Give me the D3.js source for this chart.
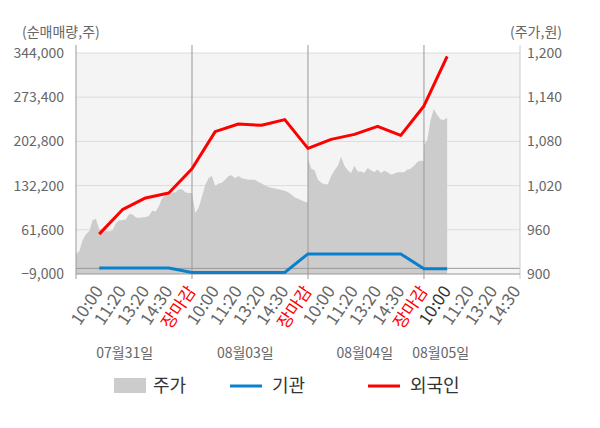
<!DOCTYPE html>
<html>
<head>
<meta charset="utf-8">
<script src="https://cdn.jsdelivr.net/npm/d3@7"></script>
<style>
  body { margin: 0; background: #fff; }
  svg text { font-family: "Noto Sans CJK KR", "Noto Sans", sans-serif; }
</style>
</head>
<body>
<div id="vis"></div>
<script>
// ---------- data ----------
const days = ["07월31일", "08월03일", "08월04일", "08월05일"];
const slotLabels = [
  "10:00", "11:20", "13:20", "14:30", "장마감",
  "10:00", "11:20", "13:20", "14:30", "장마감",
  "10:00", "11:20", "13:20", "14:30", "장마감",
  "10:00", "11:20", "13:20", "14:30"
];
const leftTicks = [-9000, 61600, 132200, 202800, 273400, 344000];
const rightTicks = [900, 960, 1020, 1080, 1140, 1200];

// net buying (shares), one value per time slot from day 1 10:00
const foreign = [54700, 93700, 112500, 120500, 159000,
  218400, 230600, 228500, 237600, 191600,
  206000, 214000, 226900, 212400, 259400,
  338700];
const institution = [500, 500, 500, 500, -6500,
  -6500, -6500, -6500, -6500, 23100,
  23100, 23100, 23100, 23100, -500,
  -500];

// intraday price (won), evenly sampled per session
const priceDay1 = [927, 931, 946, 954, 958, 973, 975, 961, 956, 958, 958, 959,
  969, 973, 973, 974, 981, 981, 977, 976, 977, 977, 979, 986,
  985, 992, 1003, 1007, 1008, 1010, 1011, 1015, 1015, 1011, 1010, 1010];
const priceDay2 = [1010, 983, 990, 1005, 1021, 1030, 1033, 1019, 1023, 1024, 1028, 1033,
  1034, 1030, 1033, 1030, 1029, 1028, 1028, 1028, 1025, 1023, 1020, 1018,
  1017, 1016, 1015, 1014, 1013, 1011, 1008, 1004, 1002, 1000, 998, 997];
const priceDay3 = [1057, 1043, 1041, 1028, 1024, 1022, 1022, 1033, 1041, 1047, 1059, 1047,
  1041, 1037, 1047, 1039, 1039, 1037, 1044, 1041, 1038, 1042, 1037, 1040,
  1038, 1035, 1036, 1038, 1038, 1038, 1042, 1043, 1047, 1052, 1054, 1053];
const priceDay4 = [1075, 1082, 1109, 1124, 1116, 1110, 1109, 1112];

// ---------- layout ----------
const W = 600, H = 428;
const plot = { left: 76, right: 520, top: 53, bottom: 274, frameTop: 45 };
const slotsPerDay = 5;
const samplesPerDay = 35;
const dateLabelAt = [2.1, 7.3, 12.45, 15.72]; // label centres, in slots
const fontGray = "#666";

const svg = d3.select("#vis").append("svg")
  .attr("width", W).attr("height", H);

// ---------- scales ----------
const x = d3.scaleLinear().domain([0, 19.14]).range([plot.left, plot.right]);
const yL = d3.scaleLinear().domain([-9000, 344000]).range([plot.bottom, plot.top]);
const yR = d3.scaleLinear().domain([900, 1200]).range([plot.bottom, plot.top]);

// ---------- transform ----------
const price = [priceDay1, priceDay2, priceDay3, priceDay4].flatMap((arr, d) =>
  arr.map((v, k) => ({ s: d * slotsPerDay + k * slotsPerDay / samplesPerDay, v })));
const flows = (arr) => arr.map((v, i) => ({ s: i + 1, v }));

// ---------- background & grid ----------
svg.append("rect")
  .attr("x", plot.left).attr("y", plot.top)
  .attr("width", plot.right - plot.left).attr("height", plot.bottom - plot.top)
  .attr("fill", "#f4f4f4");

svg.selectAll(".grid")
  .data(leftTicks.slice(1))
  .join("line")
  .attr("x1", plot.left).attr("x2", plot.right)
  .attr("y1", d => yL(d)).attr("y2", d => yL(d))
  .attr("stroke", "#dcdcdc");

// price area
svg.append("path")
  .datum(price)
  .attr("fill", "#cccccc")
  .attr("d", d3.area().x(d => x(d.s)).y0(plot.bottom).y1(d => yR(d.v)));

// zero line
svg.append("line")
  .attr("x1", plot.left).attr("x2", plot.right)
  .attr("y1", yL(0)).attr("y2", yL(0))
  .attr("stroke", "#999");

// day separators
svg.selectAll(".sep")
  .data([1, 2, 3])
  .join("line")
  .attr("x1", d => x(d * slotsPerDay)).attr("x2", d => x(d * slotsPerDay))
  .attr("y1", plot.frameTop).attr("y2", plot.bottom + 5)
  .attr("stroke", "#999");

// frame
svg.append("line")
  .attr("x1", plot.left).attr("x2", plot.left)
  .attr("y1", plot.frameTop).attr("y2", plot.bottom + 5)
  .attr("stroke", "#999");
svg.append("line")
  .attr("x1", plot.right).attr("x2", plot.right)
  .attr("y1", plot.frameTop).attr("y2", plot.bottom + 5)
  .attr("stroke", "#ccc");
svg.append("line")
  .attr("x1", plot.left).attr("x2", plot.right)
  .attr("y1", plot.bottom).attr("y2", plot.bottom)
  .attr("stroke", "#999");

// ---------- lines ----------
const line = d3.line().x(d => x(d.s)).y(d => yL(d.v));

svg.append("path")
  .datum(flows(institution))
  .attr("fill", "none").attr("stroke", "#0a80cc").attr("stroke-width", 3)
  .attr("d", line);

svg.append("path")
  .datum(flows(foreign))
  .attr("fill", "none").attr("stroke", "#ff0000").attr("stroke-width", 3)
  .attr("stroke-linejoin", "round")
  .attr("d", line);

// ---------- axes text ----------
svg.selectAll(".ylab")
  .data(leftTicks)
  .join("text")
  .attr("x", 64).attr("y", d => yL(d))
  .attr("dy", "0.36em")
  .attr("text-anchor", "end")
  .attr("font-size", 14).attr("fill", fontGray)
  .text(d => d3.format(",")(d));

svg.selectAll(".rlab")
  .data(rightTicks)
  .join("text")
  .attr("x", 527).attr("y", d => yR(d))
  .attr("dy", "0.36em")
  .attr("font-size", 14).attr("fill", fontGray)
  .text(d => d3.format(",")(d));

svg.append("text")
  .attr("x", 22).attr("y", 37)
  .attr("font-size", 14).attr("fill", fontGray)
  .text("(순매매량,주)");
svg.append("text")
  .attr("x", 562).attr("y", 37)
  .attr("text-anchor", "end")
  .attr("font-size", 14).attr("fill", fontGray)
  .text("(주가,원)");

// time labels, tilted
svg.selectAll(".xlab")
  .data(slotLabels)
  .join("text")
  .attr("transform", (d, i) => `translate(${x(i + 1) + 4.5},291) rotate(-56)`)
  .attr("text-anchor", "end")
  .attr("font-size", 17)
  .attr("fill", (d, i) => d === "장마감" ? "#ff0000" : i === 15 ? "#333" : fontGray)
  .text(d => d);

svg.selectAll(".dlab")
  .data(days)
  .join("text")
  .attr("x", (d, i) => x(dateLabelAt[i]))
  .attr("y", 358)
  .attr("text-anchor", "middle")
  .attr("font-size", 14).attr("fill", fontGray)
  .text(d => d);

// ---------- legend ----------
const legend = svg.append("g").attr("transform", "translate(0,386)");
legend.append("rect")
  .attr("x", 114).attr("y", -8).attr("width", 32).attr("height", 15)
  .attr("fill", "#cccccc");
legend.append("line")
  .attr("x1", 230).attr("x2", 262).attr("y1", 0).attr("y2", 0)
  .attr("stroke", "#0a80cc").attr("stroke-width", 3);
legend.append("line")
  .attr("x1", 368).attr("x2", 400).attr("y1", 0).attr("y2", 0)
  .attr("stroke", "#ff0000").attr("stroke-width", 3);
legend.selectAll("text")
  .data([["주가", 153], ["기관", 272], ["외국인", 410]])
  .join("text")
  .attr("x", d => d[1]).attr("y", 0)
  .attr("dy", "0.36em")
  .attr("font-size", 18).attr("fill", "#333")
  .text(d => d[0]);
</script>
</body>
</html>
